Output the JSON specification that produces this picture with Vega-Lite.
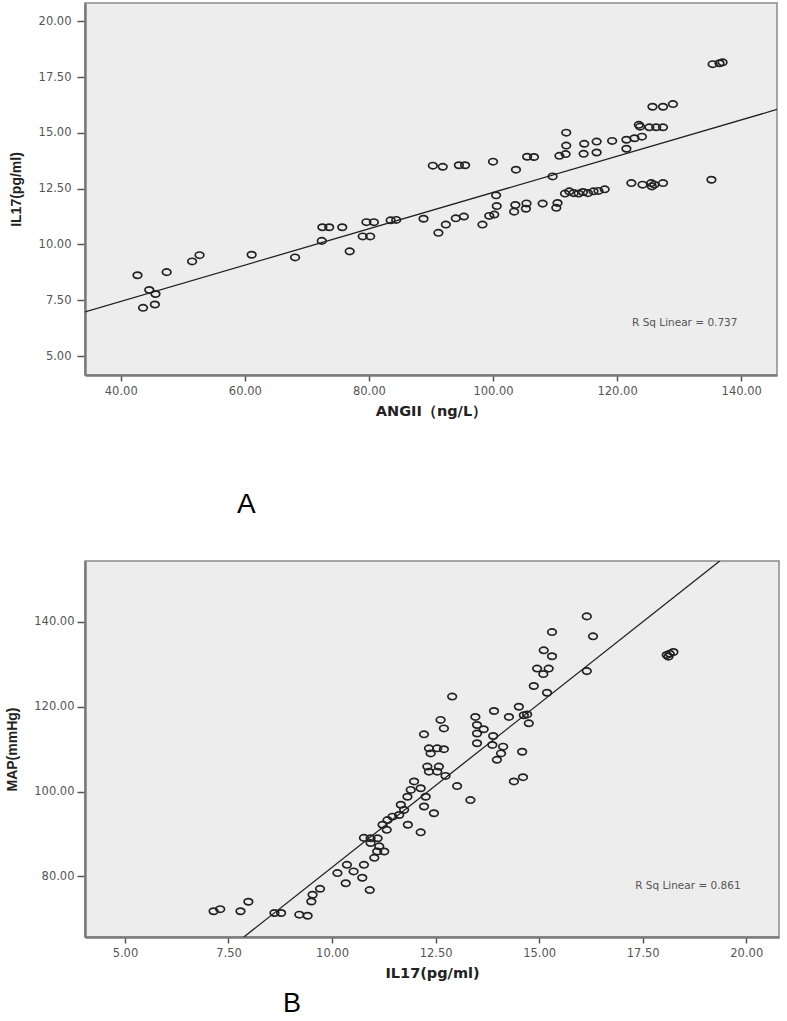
{
  "$schema": "https://vega.github.io/schema/vega-lite/v6.json",
  "background": "white",
  "padding": {"left": 5, "top": 2, "right": 5, "bottom": 0},
  "spacing": 40,
  "config": {
    "view": {"fill": "#ededed", "stroke": "#8a8a8a", "strokeWidth": 1.5},
    "axis": {
      "grid": false,
      "domainColor": "#7a7a7a",
      "domainWidth": 2.5,
      "tickColor": "#555555",
      "tickWidth": 1.5,
      "labelFont": "DejaVu Sans",
      "labelFontSize": 11.5,
      "labelColor": "#555555",
      "titleColor": "#222222",
      "titleFontWeight": "bold"
    }
  },
  "datasets": {
    "a": [
      {"ANGII": 42.7, "IL17": 8.62}, {"ANGII": 44.6, "IL17": 7.96}, {"ANGII": 45.6, "IL17": 7.78},
      {"ANGII": 43.6, "IL17": 7.16}, {"ANGII": 45.5, "IL17": 7.31}, {"ANGII": 47.4, "IL17": 8.76},
      {"ANGII": 51.5, "IL17": 9.24}, {"ANGII": 52.7, "IL17": 9.52}, {"ANGII": 61.1, "IL17": 9.54},
      {"ANGII": 68.1, "IL17": 9.42}, {"ANGII": 72.4, "IL17": 10.16}, {"ANGII": 72.5, "IL17": 10.77},
      {"ANGII": 73.6, "IL17": 10.77}, {"ANGII": 75.7, "IL17": 10.77}, {"ANGII": 76.9, "IL17": 9.69},
      {"ANGII": 79.0, "IL17": 10.36}, {"ANGII": 80.2, "IL17": 10.36}, {"ANGII": 79.6, "IL17": 11.0},
      {"ANGII": 80.8, "IL17": 11.0}, {"ANGII": 83.5, "IL17": 11.08}, {"ANGII": 84.4, "IL17": 11.1},
      {"ANGII": 88.8, "IL17": 11.15}, {"ANGII": 91.2, "IL17": 10.52}, {"ANGII": 92.4, "IL17": 10.89},
      {"ANGII": 94.0, "IL17": 11.17}, {"ANGII": 95.3, "IL17": 11.25}, {"ANGII": 98.3, "IL17": 10.89},
      {"ANGII": 99.4, "IL17": 11.28}, {"ANGII": 100.2, "IL17": 11.34}, {"ANGII": 100.6, "IL17": 11.72},
      {"ANGII": 100.5, "IL17": 12.2}, {"ANGII": 103.4, "IL17": 11.47}, {"ANGII": 103.6, "IL17": 11.77},
      {"ANGII": 105.3, "IL17": 11.6}, {"ANGII": 105.4, "IL17": 11.84}, {"ANGII": 108.0, "IL17": 11.83},
      {"ANGII": 110.2, "IL17": 11.64}, {"ANGII": 110.4, "IL17": 11.86}, {"ANGII": 111.6, "IL17": 12.28},
      {"ANGII": 112.3, "IL17": 12.38}, {"ANGII": 113.0, "IL17": 12.3}, {"ANGII": 113.8, "IL17": 12.28},
      {"ANGII": 114.5, "IL17": 12.35}, {"ANGII": 115.3, "IL17": 12.3}, {"ANGII": 116.2, "IL17": 12.38},
      {"ANGII": 117.0, "IL17": 12.4}, {"ANGII": 118.0, "IL17": 12.47}, {"ANGII": 109.6, "IL17": 13.05},
      {"ANGII": 90.3, "IL17": 13.53}, {"ANGII": 91.9, "IL17": 13.48}, {"ANGII": 94.5, "IL17": 13.55},
      {"ANGII": 95.5, "IL17": 13.55}, {"ANGII": 100.0, "IL17": 13.71}, {"ANGII": 103.7, "IL17": 13.35},
      {"ANGII": 105.5, "IL17": 13.93}, {"ANGII": 106.6, "IL17": 13.92}, {"ANGII": 110.7, "IL17": 13.97},
      {"ANGII": 111.7, "IL17": 14.05}, {"ANGII": 114.6, "IL17": 14.06}, {"ANGII": 116.7, "IL17": 14.12},
      {"ANGII": 111.8, "IL17": 14.43}, {"ANGII": 111.8, "IL17": 15.01}, {"ANGII": 114.7, "IL17": 14.51},
      {"ANGII": 116.7, "IL17": 14.61}, {"ANGII": 119.2, "IL17": 14.64}, {"ANGII": 121.5, "IL17": 14.69},
      {"ANGII": 122.8, "IL17": 14.76}, {"ANGII": 124.0, "IL17": 14.83}, {"ANGII": 121.5, "IL17": 14.29},
      {"ANGII": 123.5, "IL17": 15.36}, {"ANGII": 123.7, "IL17": 15.28}, {"ANGII": 125.2, "IL17": 15.25},
      {"ANGII": 126.3, "IL17": 15.25}, {"ANGII": 127.4, "IL17": 15.25}, {"ANGII": 125.7, "IL17": 16.17},
      {"ANGII": 127.4, "IL17": 16.17}, {"ANGII": 129.0, "IL17": 16.29}, {"ANGII": 135.4, "IL17": 18.08},
      {"ANGII": 136.5, "IL17": 18.12}, {"ANGII": 137.0, "IL17": 18.16}, {"ANGII": 135.2, "IL17": 12.9},
      {"ANGII": 122.3, "IL17": 12.75}, {"ANGII": 124.1, "IL17": 12.68}, {"ANGII": 125.5, "IL17": 12.75},
      {"ANGII": 125.6, "IL17": 12.6}, {"ANGII": 126.0, "IL17": 12.68}, {"ANGII": 127.4, "IL17": 12.75}
    ],
    "fitA": [{"ANGII": 34.24, "IL17": 6.98}, {"ANGII": 145.77, "IL17": 16.05}],
    "noteA": [{"note": "R Sq Linear = 0.737"}],
    "b": [
      {"IL17": 7.14, "MAP": 71.8}, {"IL17": 7.30, "MAP": 72.3}, {"IL17": 7.79, "MAP": 71.8},
      {"IL17": 7.98, "MAP": 74.05}, {"IL17": 8.61, "MAP": 71.4}, {"IL17": 8.77, "MAP": 71.4},
      {"IL17": 9.21, "MAP": 71.0}, {"IL17": 9.41, "MAP": 70.75}, {"IL17": 9.50, "MAP": 74.1},
      {"IL17": 9.53, "MAP": 75.7}, {"IL17": 9.71, "MAP": 77.1}, {"IL17": 10.13, "MAP": 80.8},
      {"IL17": 10.36, "MAP": 82.75}, {"IL17": 10.52, "MAP": 81.2}, {"IL17": 10.33, "MAP": 78.4},
      {"IL17": 10.77, "MAP": 82.75}, {"IL17": 10.73, "MAP": 79.7}, {"IL17": 10.91, "MAP": 76.8},
      {"IL17": 10.77, "MAP": 89.1}, {"IL17": 10.93, "MAP": 89.0}, {"IL17": 11.1, "MAP": 89.0},
      {"IL17": 10.93, "MAP": 87.9}, {"IL17": 11.02, "MAP": 84.4}, {"IL17": 11.09, "MAP": 85.9},
      {"IL17": 11.14, "MAP": 87.1}, {"IL17": 11.26, "MAP": 85.9}, {"IL17": 11.22, "MAP": 92.2},
      {"IL17": 11.34, "MAP": 93.3}, {"IL17": 11.46, "MAP": 94.1}, {"IL17": 11.32, "MAP": 91.0},
      {"IL17": 11.62, "MAP": 94.5}, {"IL17": 11.74, "MAP": 95.7}, {"IL17": 11.66, "MAP": 96.9},
      {"IL17": 11.83, "MAP": 92.2}, {"IL17": 11.82, "MAP": 98.8}, {"IL17": 11.9, "MAP": 100.4},
      {"IL17": 11.98, "MAP": 102.4}, {"IL17": 12.14, "MAP": 100.8}, {"IL17": 12.26, "MAP": 98.8},
      {"IL17": 12.22, "MAP": 96.5}, {"IL17": 12.46, "MAP": 94.9}, {"IL17": 12.14, "MAP": 90.4},
      {"IL17": 12.3, "MAP": 105.9}, {"IL17": 12.34, "MAP": 104.7}, {"IL17": 12.58, "MAP": 105.9},
      {"IL17": 12.54, "MAP": 104.7}, {"IL17": 12.74, "MAP": 103.7}, {"IL17": 13.02, "MAP": 101.3},
      {"IL17": 13.34, "MAP": 98.0}, {"IL17": 12.34, "MAP": 110.2}, {"IL17": 12.38, "MAP": 109.0},
      {"IL17": 12.54, "MAP": 110.2}, {"IL17": 12.7, "MAP": 110.0}, {"IL17": 12.22, "MAP": 113.5},
      {"IL17": 12.62, "MAP": 116.9}, {"IL17": 12.7, "MAP": 114.9}, {"IL17": 12.9, "MAP": 122.4},
      {"IL17": 13.46, "MAP": 117.6}, {"IL17": 13.5, "MAP": 115.7}, {"IL17": 13.5, "MAP": 113.7},
      {"IL17": 13.66, "MAP": 114.7}, {"IL17": 13.5, "MAP": 111.4}, {"IL17": 13.89, "MAP": 113.1},
      {"IL17": 13.87, "MAP": 111.0}, {"IL17": 14.13, "MAP": 110.6}, {"IL17": 14.08, "MAP": 109.0},
      {"IL17": 13.98, "MAP": 107.5}, {"IL17": 13.91, "MAP": 119.0}, {"IL17": 14.27, "MAP": 117.6},
      {"IL17": 14.51, "MAP": 120.0}, {"IL17": 14.71, "MAP": 118.2}, {"IL17": 14.63, "MAP": 118.0},
      {"IL17": 14.75, "MAP": 116.1}, {"IL17": 14.59, "MAP": 109.4}, {"IL17": 14.39, "MAP": 102.4},
      {"IL17": 14.61, "MAP": 103.4}, {"IL17": 14.87, "MAP": 124.9}, {"IL17": 15.19, "MAP": 123.3},
      {"IL17": 14.95, "MAP": 129.0}, {"IL17": 15.1, "MAP": 127.7}, {"IL17": 15.23, "MAP": 129.0},
      {"IL17": 15.11, "MAP": 133.3}, {"IL17": 15.31, "MAP": 131.9}, {"IL17": 15.31, "MAP": 137.6},
      {"IL17": 16.15, "MAP": 141.3}, {"IL17": 16.3, "MAP": 136.6}, {"IL17": 16.15, "MAP": 128.4},
      {"IL17": 18.08, "MAP": 132.2}, {"IL17": 18.24, "MAP": 132.9}, {"IL17": 18.12, "MAP": 131.8},
      {"IL17": 18.15, "MAP": 132.5}
    ],
    "fitB": [{"IL17": 7.87, "MAP": 65.74}, {"IL17": 19.36, "MAP": 154.35}],
    "noteB": [{"note": "R Sq Linear = 0.861"}]
  },
  "vconcat": [
    {
      "width": 692,
      "height": 372,
      "title": {"text": "A", "orient": "bottom", "anchor": "start", "frame": "group", "dx": 152, "offset": 73, "fontSize": 28, "font": "Liberation Sans", "fontWeight": "normal", "color": "#000000"},
      "layer": [
        {
          "data": {"name": "a"},
          "mark": {"type": "point", "shape": "M-1.36,0A1.36,1,0,1,1,1.36,0A1.36,1,0,1,1,-1.36,0Z", "size": 40, "filled": false, "strokeWidth": 1.7, "color": "#222222", "opacity": 1},
          "encoding": {
            "x": {"field": "ANGII", "type": "quantitative", "scale": {"domain": [34.24, 145.77], "nice": false, "zero": false},
                  "axis": {"values": [40, 60, 80, 100, 120, 140], "format": ".2f", "title": "ANGII（ng/L）", "titleFont": "DejaVu Sans", "titleFontSize": 14.5, "tickSize": 6, "labelPadding": 4, "titlePadding": 8}},
            "y": {"field": "IL17", "type": "quantitative", "scale": {"domain": [4.15, 20.82], "nice": false, "zero": false},
                  "axis": {"values": [5, 7.5, 10, 12.5, 15, 17.5, 20], "format": ".2f", "title": "IL17(pg/ml)", "titleFont": "Liberation Sans", "titleFontSize": 14, "tickSize": 8, "labelPadding": 6, "titlePadding": 15}}
          }
        },
        {
          "data": {"name": "fitA"},
          "mark": {"type": "line", "color": "#222222", "strokeWidth": 1.3, "clip": true},
          "encoding": {"x": {"field": "ANGII", "type": "quantitative"}, "y": {"field": "IL17", "type": "quantitative"}}
        },
        {
          "data": {"name": "noteA"},
          "mark": {"type": "text", "font": "DejaVu Sans", "fontSize": 10.5, "color": "#555555", "align": "center", "baseline": "middle"},
          "encoding": {"x": {"datum": 130.9}, "y": {"datum": 6.46}, "text": {"field": "note"}}
        }
      ]
    },
    {
      "width": 694,
      "height": 376,
      "title": {"text": "B", "orient": "bottom", "anchor": "start", "frame": "group", "dx": 198, "offset": 11, "fontSize": 27, "font": "Liberation Sans", "fontWeight": "normal", "color": "#000000"},
      "layer": [
        {
          "data": {"name": "b"},
          "mark": {"type": "point", "shape": "M-1.36,0A1.36,1,0,1,1,1.36,0A1.36,1,0,1,1,-1.36,0Z", "size": 40, "filled": false, "strokeWidth": 1.7, "color": "#222222", "opacity": 1},
          "encoding": {
            "x": {"field": "IL17", "type": "quantitative", "scale": {"domain": [4.036, 20.79], "nice": false, "zero": false},
                  "axis": {"values": [5, 7.5, 10, 12.5, 15, 17.5, 20], "format": ".2f", "title": "IL17(pg/ml)", "titleFont": "DejaVu Sans", "titleFontSize": 14.5, "tickSize": 6, "labelPadding": 4, "titlePadding": 8}},
            "y": {"field": "MAP", "type": "quantitative", "scale": {"domain": [65.74, 154.35], "nice": false, "zero": false},
                  "axis": {"values": [80, 100, 120, 140], "format": ".2f", "title": "MAP(mmHg)", "titleFont": "Liberation Sans", "titleFontSize": 14, "tickSize": 8, "labelPadding": 3, "titlePadding": 14}}
          }
        },
        {
          "data": {"name": "fitB"},
          "mark": {"type": "line", "color": "#222222", "strokeWidth": 1.3, "clip": true},
          "encoding": {"x": {"field": "IL17", "type": "quantitative"}, "y": {"field": "MAP", "type": "quantitative"}}
        },
        {
          "data": {"name": "noteB"},
          "mark": {"type": "text", "font": "DejaVu Sans", "fontSize": 10.5, "color": "#555555", "align": "center", "baseline": "middle"},
          "encoding": {"x": {"datum": 18.59}, "y": {"datum": 77.65}, "text": {"field": "note"}}
        }
      ]
    }
  ]
}
